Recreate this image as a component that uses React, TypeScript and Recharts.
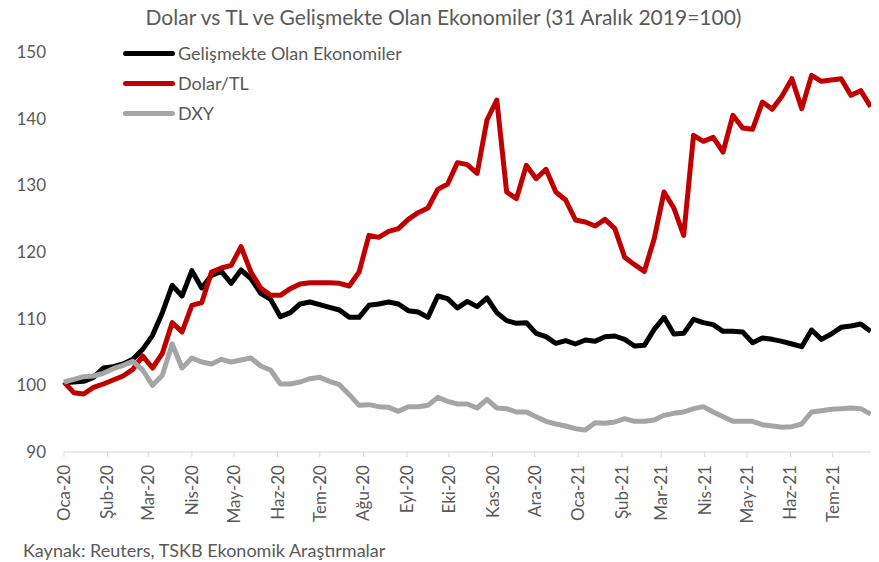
import React from "react";
import { LineChart, Line, XAxis, YAxis, Legend } from "recharts";

// weekly closes, 31 Dec 2019 = 100
const emerging = [
  100.4, 100.5, 100.6, 101.2, 102.6, 102.8, 103.2, 103.9, 105.4, 107.5,
  110.9, 115.0, 113.4, 117.2, 114.6, 116.5, 117.1, 115.3, 117.3, 116.0,
  113.8, 112.9, 110.3, 110.9, 112.2, 112.5, 112.1, 111.7, 111.3, 110.2,
  110.2, 112.0, 112.2, 112.5, 112.2, 111.2, 111.0, 110.2, 113.4, 113.0,
  111.6, 112.6, 111.8, 113.1, 110.9, 109.7, 109.3, 109.4, 107.8, 107.3,
  106.3, 106.7, 106.2, 106.8, 106.6, 107.3, 107.4, 106.9, 105.9, 106.0,
  108.4, 110.2, 107.7, 107.8, 109.9, 109.4, 109.1, 108.1, 108.1, 108.0,
  106.4, 107.1, 106.9, 106.6, 106.2, 105.8, 108.3, 106.9, 107.7, 108.7,
  108.9, 109.2, 108.1,
];
const usdTry = [
  100.5, 98.9, 98.7, 99.7, 100.2, 100.8, 101.4, 102.4, 104.4, 102.6,
  104.8, 109.4, 108.0, 112.0, 112.4, 117.0, 117.6, 118.0, 120.8, 117.0,
  114.6, 113.5, 113.5, 114.5, 115.2, 115.4, 115.4, 115.4, 115.3, 114.9,
  117.0, 122.5, 122.2, 123.1, 123.5, 124.9, 125.9, 126.6, 129.4, 130.2,
  133.4, 133.1, 131.8, 139.8, 142.8, 129.0, 128.0, 133.0, 131.0, 132.4,
  129.0, 127.8, 124.8, 124.5, 123.9, 124.9, 123.5, 119.2, 118.1, 117.1,
  122.0, 129.0, 126.6, 122.5, 137.5, 136.6, 137.2, 135.0, 140.5, 138.6,
  138.4, 142.5, 141.4, 143.4, 146.0, 141.5, 146.5, 145.6, 145.8, 146.0,
  143.5, 144.2, 141.8,
];
const dxy = [
  100.5, 100.9, 101.3, 101.4, 101.8, 102.5, 103.0, 103.6, 102.3, 100.0,
  101.5, 106.2, 102.6, 104.1, 103.5, 103.2, 103.9, 103.5, 103.8, 104.1,
  102.9, 102.3, 100.2, 100.2, 100.5, 101.0, 101.2, 100.6, 100.1, 98.6,
  97.0, 97.1, 96.8, 96.7, 96.1, 96.8, 96.8, 97.0, 98.2, 97.6,
  97.2, 97.2, 96.6, 97.9, 96.6, 96.5, 96.0, 96.0, 95.3, 94.6,
  94.2, 93.9, 93.5, 93.3, 94.4, 94.3, 94.5, 95.0, 94.6, 94.6,
  94.8, 95.5, 95.8, 96.0, 96.5, 96.8, 96.0, 95.3, 94.6, 94.6,
  94.6, 94.1, 93.9, 93.7, 93.8, 94.2, 96.0, 96.2, 96.4, 96.5,
  96.6, 96.5, 95.7,
];

// days since 1 Jan 2020 for each month start
const monthTicks = [0, 31, 60, 91, 121, 152, 182, 213, 244, 274, 305, 335, 366, 397, 425, 456, 486, 517, 547];
const monthLabels = [
  "Oca-20", "Şub-20", "Mar-20", "Nis-20", "May-20", "Haz-20", "Tem-20", "Ağu-20", "Eyl-20", "Eki-20",
  "Kas-20", "Ara-20", "Oca-21", "Şub-21", "Mar-21", "Nis-21", "May-21", "Haz-21", "Tem-21",
];
const yTicks = [90, 100, 110, 120, 130, 140, 150];
const seriesNames = ["Gelişmekte Olan Ekonomiler", "Dolar/TL", "DXY"];

const data = emerging.map((v, i) => ({
  day: i * 7,
  emerging: v,
  usdTry: usdTry[i],
  dxy: dxy[i],
}));

const FONT = "Lato, 'Open Sans', sans-serif";
const TEXT = "#595959";

const MonthTick = (props: any) => {
  const { x, y, payload } = props;
  const idx = monthTicks.indexOf(payload.value);
  return (
    <text
      x={x}
      y={y}
      dy="0.35em"
      transform={`rotate(-90 ${x} ${y})`}
      textAnchor="end"
      fill={TEXT}
      fontSize={17}
      fontFamily={FONT}
    >
      {monthLabels[idx]}
    </text>
  );
};

const LegendBox = (props: any) => {
  const items = [...(props.payload || [])].sort(
    (a: any, b: any) => seriesNames.indexOf(a.value) - seriesNames.indexOf(b.value)
  );
  return (
    <div style={{ fontFamily: FONT }}>
      {items.map((p: any) => (
        <div key={p.value} style={{ display: "flex", alignItems: "center", height: 30 }}>
          <div style={{ width: 52, height: 5, borderRadius: 3, background: p.color, marginRight: 3 }} />
          <span style={{ color: TEXT, fontSize: 18 }}>{p.value}</span>
        </div>
      ))}
    </div>
  );
};

export default function App() {
  return (
    <div style={{ position: "relative", width: 871, height: 554, fontFamily: FONT }}>
      <div
        style={{
          position: "absolute",
          top: -4,
          left: 0,
          width: 871,
          textAlign: "center",
          fontSize: 21,
          lineHeight: "26px",
          color: TEXT,
        }}
      >
        Dolar vs TL ve Gelişmekte Olan Ekonomiler (31 Aralık 2019=100)
      </div>
      <LineChart width={871} height={554} data={data} margin={{ top: 44, right: 7, left: 0, bottom: 20 }}>
        <XAxis
          dataKey="day"
          type="number"
          domain={[0, 575]}
          ticks={monthTicks}
          interval={0}
          tick={<MonthTick />}
          tickSize={5}
          tickMargin={8}
          height={90}
          stroke="#d9d9d9"
          tickLine={{ stroke: "#d9d9d9" }}
        />
        <YAxis
          domain={[90, 150]}
          ticks={yTicks}
          interval={0}
          width={56}
          axisLine={false}
          tickLine={false}
          tickMargin={12}
          tick={{ fill: TEXT, fontSize: 17, fontFamily: FONT }}
        />
        <Legend
          layout="vertical"
          verticalAlign="middle"
          align="center"
          wrapperStyle={{ top: 30, left: 115, width: 340, height: 90 }}
          content={<LegendBox />}
        />
        <Line
          dataKey="emerging"
          name="Gelişmekte Olan Ekonomiler"
          stroke="#000000"
          strokeWidth={5}
          strokeLinejoin="round"
          dot={false}
          isAnimationActive={false}
        />
        <Line
          dataKey="usdTry"
          name="Dolar/TL"
          stroke="#C00000"
          strokeWidth={5}
          strokeLinejoin="round"
          dot={false}
          isAnimationActive={false}
        />
        <Line
          dataKey="dxy"
          name="DXY"
          stroke="#A5A5A5"
          strokeWidth={5}
          strokeLinejoin="round"
          dot={false}
          isAnimationActive={false}
        />
      </LineChart>
      <div
        style={{
          position: "absolute",
          left: 15,
          top: 531,
          fontSize: 18,
          lineHeight: "22px",
          color: TEXT,
        }}
      >
        Kaynak: Reuters, TSKB Ekonomik Araştırmalar
      </div>
    </div>
  );
}
